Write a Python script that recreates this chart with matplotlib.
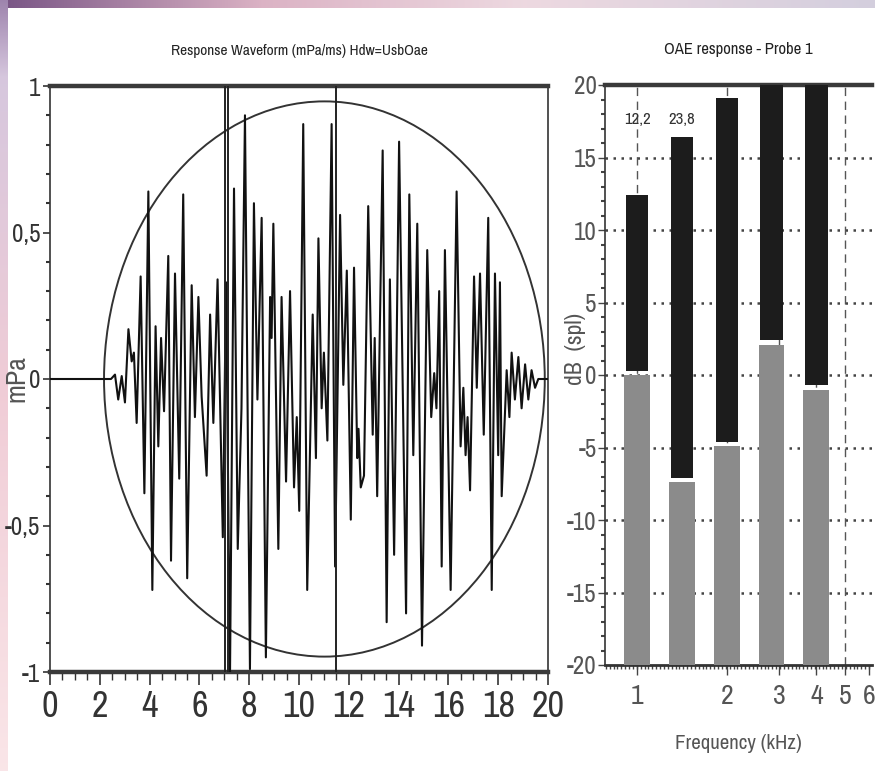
import numpy as np
import matplotlib
matplotlib.use("Agg")
import matplotlib.pyplot as plt
from matplotlib import font_manager
from matplotlib.patches import Ellipse
from matplotlib.ticker import FixedLocator, MultipleLocator, FuncFormatter, NullFormatter

# --- waveform (ms, mPa)
wave_t = [0.0, 2.45, 2.61, 2.74, 2.88, 3.01, 3.15, 3.28, 3.37, 3.48, 3.64, 3.79, 3.95, 4.11,
          4.24, 4.35, 4.46, 4.58, 4.75, 4.86, 5.02, 5.19, 5.35, 5.51, 5.69, 5.82, 5.96, 6.09,
          6.29, 6.43, 6.56, 6.73, 6.94, 7.07, 7.23, 7.39, 7.54, 7.69, 7.83, 8.03, 8.19, 8.33,
          8.50, 8.67, 8.84, 8.90, 8.97, 9.17, 9.30, 9.48, 9.64, 9.80, 9.91, 10.01, 10.17,
          10.33, 10.55, 10.68, 10.78, 10.91, 11.00, 11.14, 11.31, 11.45, 11.65, 11.78, 11.92,
          12.08, 12.21, 12.34, 12.39, 12.48, 12.61, 12.78, 12.96, 13.04, 13.14, 13.36, 13.52,
          13.65, 13.82, 14.02, 14.30, 14.43, 14.59, 14.75, 14.94, 15.15, 15.31, 15.43, 15.52,
          15.63, 15.73, 15.86, 16.09, 16.33, 16.49, 16.60, 16.69, 16.77, 16.87, 17.03, 17.14,
          17.27, 17.42, 17.60, 17.74, 17.87, 18.00, 18.07, 18.14, 18.34, 18.45, 18.54, 18.67,
          18.81, 18.94, 19.08, 19.21, 19.34, 19.48, 19.61, 20.0]
wave_v = [0.0, 0.0, 0.015, -0.07, 0.01, -0.08, 0.17, 0.06, 0.09, -0.15, 0.35, -0.39, 0.64, -0.72,
          0.18, -0.23, 0.14, -0.11, 0.42, -0.62, 0.36, -0.34, 0.63, -0.68, 0.32, -0.13, 0.28, -0.06,
          -0.33, 0.22, -0.15, 0.34, -0.54, 0.33, -1.0, 0.65, -0.58, -0.10, 0.90, -0.99, 0.60, -0.07,
          0.55, -0.95, 0.28, 0.14, 0.53, -0.58, 0.28, -0.35, 0.30, -0.37, -0.13, -0.45, 0.87,
          -0.72, 0.22, -0.27, 0.48, -0.10, 0.09, -0.21, 0.87, -0.64, 0.56, -0.02, 0.37,
          -0.48, 0.38, -0.27, -0.17, -0.37, -0.33, 0.59, -0.19, 0.14, -0.40, 0.78, -0.83,
          0.34, -0.60, 0.81, -0.80, 0.63, -0.26, 0.53, -0.91, 0.44, -0.13, 0.02, -0.10,
          0.30, -0.64, 0.44, -0.72, 0.64, -0.23, -0.03, -0.26, -0.13, -0.38, 0.35, -0.03,
          0.36, -0.19, 0.55, -0.72, 0.36, -0.26, 0.33, -0.40, 0.03, -0.13, 0.09, -0.07,
          0.075, -0.10, 0.05, -0.07, 0.03, -0.03, 0.0, 0.0]
cursor_t = [7.03, 7.15, 11.47]
window_center = (11.02, 0.0)
window_size = (17.7, 1.895)

x_ticks = [0, 2, 4, 6, 8, 10, 12, 14, 16, 18, 20]
y_ticks = [-1, -0.5, 0, 0.5, 1]

# --- OAE response bars (kHz, dB spl)
freqs = [1.0, 1.414, 2.0, 2.828, 4.0]
noise_db = [0.0, -7.4, -4.9, 2.1, -1.0]
signal_db = [12.4, 16.4, 19.1, 22.0, 22.0]
bar_labels = ["12,2", "23,8"]
f_ticks = [1, 2, 3, 4, 5, 6]
db_ticks = [-20, -15, -10, -5, 0, 5, 10, 15, 20]

# look for a narrow face, the original uses tall condensed lettering
narrow = None
stretch = "normal"
for fe in font_manager.fontManager.ttflist:
    if "Narrow" in fe.name or "Condensed" in fe.name:
        narrow = fe.name
        break
    if fe.name == "DejaVu Sans" and "condensed" in str(fe.stretch) and fe.style == "normal":
        narrow = "DejaVu Sans"
        stretch = "condensed"
if narrow is None:
    narrow = "Liberation Sans"
plt.rcParams["font.family"] = [narrow, "DejaVu Sans"]
plt.rcParams["font.stretch"] = stretch
plt.rcParams["axes.unicode_minus"] = False

fig = plt.figure(figsize=(8.75, 7.71), dpi=100)

# slide background strips (top / left)
bg = fig.add_axes([0, 0, 1, 1], zorder=-10)
img = np.ones((771, 875, 3))
xs = np.linspace(0, 1, 875)
top_cols = np.array([[0.47, 0.33, 0.52], [0.86, 0.70, 0.77], [0.93, 0.85, 0.88], [0.83, 0.81, 0.87]])
top_pos = [0.0, 0.3, 0.6, 1.0]
top = np.stack([np.interp(xs, top_pos, top_cols[:, c]) for c in range(3)], axis=1)
img[:8, :, :] = top[None, :, :]
ys = np.linspace(0, 1, 771)
left_cols = np.array([[0.62, 0.52, 0.68], [0.84, 0.78, 0.87], [0.94, 0.80, 0.84], [0.98, 0.90, 0.91]])
left_pos = [0.0, 0.1, 0.5, 1.0]
left = np.stack([np.interp(ys, left_pos, left_cols[:, c]) for c in range(3)], axis=1)
img[:, :8, :] = left[:, None, :]
bg.imshow(img, aspect="auto", extent=(0, 875, 771, 0))
bg.axis("off")

# ---------------- left: response waveform
ax = fig.add_axes([50 / 875, 99 / 771, 498 / 875, 586 / 771])
ax.plot(wave_t, wave_v, color="#111111", lw=1.5, zorder=3)
for t in cursor_t:
    ax.axvline(t, color="#222222", lw=1.4, zorder=4)
ax.add_patch(Ellipse(window_center, window_size[0], window_size[1], fill=False,
                     edgecolor="#333333", lw=1.4, zorder=2))
ax.set_xlim(0, 20)
ax.set_ylim(-1, 1)
for s in ["top", "bottom"]:
    ax.spines[s].set_linewidth(3.2)
    ax.spines[s].set_color("#3a3a3a")
for s in ["left", "right"]:
    ax.spines[s].set_linewidth(1.2)
    ax.spines[s].set_color("#333333")
ax.set_xticks(x_ticks)
ax.xaxis.set_minor_locator(MultipleLocator(0.5))
ax.set_yticks(y_ticks)
ax.yaxis.set_minor_locator(MultipleLocator(0.1))
ax.yaxis.set_major_formatter(FuncFormatter(lambda v, p: ("%g" % v).replace(".", ",")))
ax.tick_params(axis="x", which="major", length=9, width=1.2, color="#333333",
               labelsize=26, labelcolor="#333333", pad=4)
ax.tick_params(axis="x", which="minor", length=6, width=1.0, color="#333333")
ax.tick_params(axis="y", which="major", length=5, width=1.2, color="#333333",
               labelsize=18, labelcolor="#333333", pad=2)
ax.tick_params(axis="y", which="minor", length=3, width=1.5, color="#333333")
ax.set_title("Response Waveform (mPa/ms) Hdw=UsbOae", fontsize=11, color="#222222", pad=22)
ax.set_ylabel("mPa", fontsize=20, color="#555555")
ax.yaxis.set_label_coords(-0.042, 0.5)

# ---------------- right: OAE response
bx = fig.add_axes([605 / 875, 106 / 771, 267 / 875, 580 / 771])
bx.set_xscale("log")
bx.set_xlim(0.78, 6.15)
bx.set_ylim(-20, 20)

gw, kw = 0.087, 0.075
f = np.array(freqs)
g_left = f * 10 ** (-gw / 2)
g_width = f * 10 ** (gw / 2) - g_left
k_left = f * 10 ** (-kw / 2)
k_width = f * 10 ** (kw / 2) - k_left
noise = np.array(noise_db)
signal = np.array(signal_db)
bx.bar(g_left, noise + 20, width=g_width, bottom=-20, align="edge", color="#8b8b8b", zorder=3)
bx.bar(k_left, signal - noise - 0.3, width=k_width, bottom=noise + 0.3, align="edge",
       color="#1c1c1c", zorder=3)
for fr, lab in zip(freqs, bar_labels):
    bx.text(fr, 17.6, lab, ha="center", va="center", fontsize=12, color="#333333", zorder=2)

for yv in db_ticks[1:-1]:
    bx.axhline(yv, color="#444444", lw=1.8, ls=(0, (1, 2.2)), zorder=1)
for fv in f_ticks[:-1]:
    bx.axvline(fv, color="#555555", lw=1.0, ls=(0, (6, 4)), zorder=1)

bx.spines["top"].set_linewidth(3.2)
bx.spines["top"].set_color("#3a3a3a")
bx.spines["bottom"].set_linewidth(2.0)
bx.spines["bottom"].set_color("#333333")
bx.spines["left"].set_linewidth(1.2)
bx.spines["left"].set_color("#333333")
bx.spines["right"].set_visible(False)
bx.xaxis.set_major_locator(FixedLocator(f_ticks))
bx.xaxis.set_major_formatter(FuncFormatter(lambda v, p: "%d" % v))
bx.xaxis.set_minor_locator(FixedLocator(10 ** np.arange(-0.105, 0.785, 0.013)))
bx.xaxis.set_minor_formatter(NullFormatter())
bx.set_yticks(db_ticks)
bx.yaxis.set_minor_locator(MultipleLocator(1))
bx.tick_params(axis="x", which="major", length=7, width=1.0, color="#444444",
               labelsize=20, labelcolor="#555555", pad=7)
bx.tick_params(axis="x", which="minor", length=3, width=1.0, color="#444444")
bx.tick_params(axis="y", which="major", length=5, width=1.0, color="#444444",
               labelsize=18, labelcolor="#555555", pad=1)
bx.tick_params(axis="y", which="minor", length=3, width=1.5, color="#444444")
bx.set_title("OAE response - Probe 1", fontsize=12, color="#222222", pad=22)
bx.set_xlabel("Frequency (kHz)", fontsize=15, color="#555555", labelpad=18)
bx.set_ylabel("dB  (spl)", fontsize=17, color="#555555")
bx.yaxis.set_label_coords(-0.07, 0.545)

fig.savefig("out.png", dpi=100)
